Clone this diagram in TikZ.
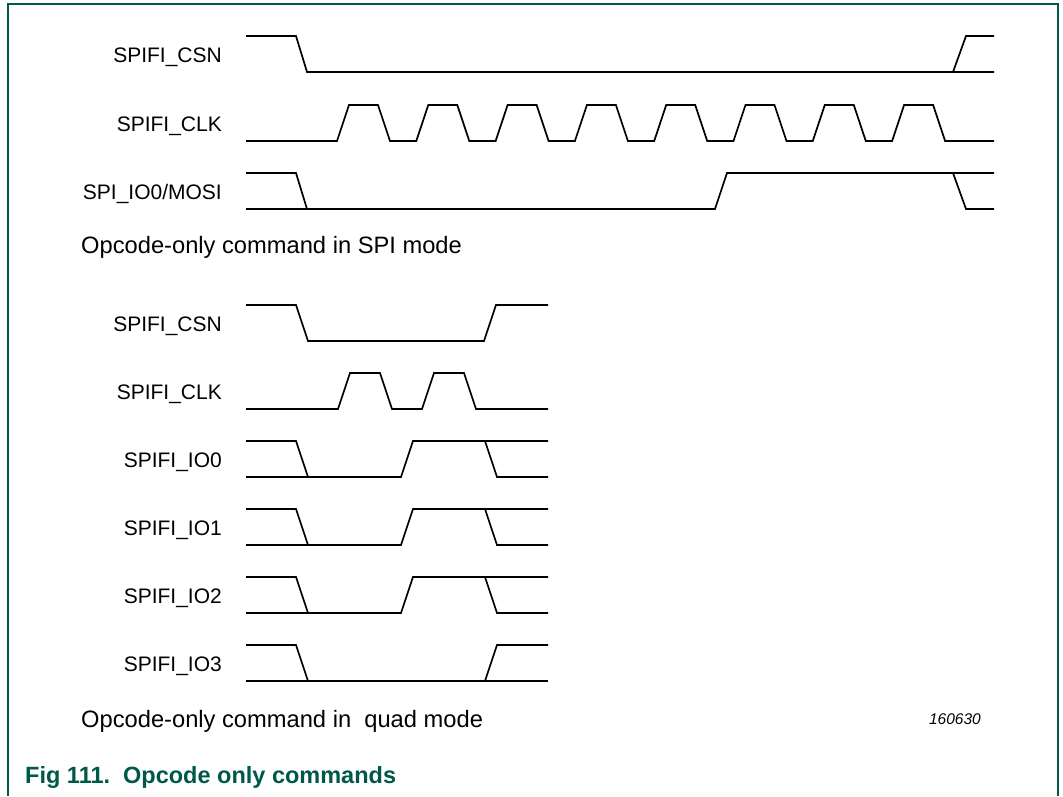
\documentclass[tikz,border=0pt]{standalone}
\usepackage{fontspec}
\setmainfont{Liberation Sans}
\definecolor{nxpgreen}{RGB}{0,88,72}
\begin{document}
\begin{tikzpicture}[x=1pt,y=-1pt,
  sig/.style={line width=1.7pt,line join=miter,black},
  frame/.style={line width=1.5pt,nxpgreen},
  lbl/.style={anchor=base east,inner sep=0pt,font=\fontsize{21}{25}\selectfont},
  captxt/.style={anchor=base west,inner sep=0pt,font=\fontsize{23.7}{28}\selectfont},
  figcap/.style={anchor=base west,inner sep=0pt,text=nxpgreen,font=\fontsize{23.5}{28}\selectfont\bfseries},
  codetxt/.style={anchor=base east,inner sep=0pt,font=\fontsize{15.5}{18}\selectfont\itshape}]
\useasboundingbox (0,0) rectangle (1063,796);
% frame
\draw[frame] (8,796) -- (8,4) -- (1058,4) -- (1058,796);

% ---------- top diagram: SPI mode ----------
\node[lbl] (l1) at (222,62) {SPIFI\_CSN};
\node[lbl] (l2) at (222,131) {SPIFI\_CLK};
\node[lbl] (l3) at (222,199) {SPI\_IO0/MOSI};
% CSN
\draw[sig] (246,36) -- (296,36) -- (307,72) -- (994,72);
\draw[sig] (953,72) -- (966,36) -- (994,36);
% CLK
\draw[sig] (246,141) foreach \k in {0,...,7} {
  -- ({337+\k*79.3},141) -- ({349+\k*79.3},105) -- ({378+\k*79.3},105) -- ({390+\k*79.3},141)
} -- (994,141);
% IO0/MOSI
\draw[sig] (246,173) -- (296,173) -- (307,209);
\draw[sig] (246,209) -- (715,209) -- (727,173) -- (994,173);
\draw[sig] (953,173) -- (966,209) -- (994,209);
\node[captxt] (c1) at (81,253) {Opcode-only command in SPI mode};

% ---------- bottom diagram: quad mode ----------
\node[lbl] (m1) at (222,331) {SPIFI\_CSN};
\node[lbl] (m2) at (222,399) {SPIFI\_CLK};
\node[lbl] (m3) at (222,467) {SPIFI\_IO0};
\node[lbl] (m4) at (222,535) {SPIFI\_IO1};
\node[lbl] (m5) at (222,603) {SPIFI\_IO2};
\node[lbl] (m6) at (222,671) {SPIFI\_IO3};
% CSN
\draw[sig] (246,305) -- (296,305) -- (308,341) -- (484,341) -- (496,305) -- (548,305);
% CLK
\draw[sig] (246,409) -- (338,409) -- (350,373) -- (380,373) -- (392,409) -- (422,409)
  -- (434,373) -- (464,373) -- (476,409) -- (548,409);
% IO0..IO2
\foreach \hi/\lo in {441/477,509/545,577/613} {
  \draw[sig] (246,\hi) -- (296,\hi) -- (308,\lo);
  \draw[sig] (246,\lo) -- (401,\lo) -- (413,\hi) -- (548,\hi);
  \draw[sig] (485,\hi) -- (497,\lo) -- (548,\lo);
}
% IO3
\draw[sig] (246,645) -- (296,645) -- (308,681);
\draw[sig] (246,681) -- (548,681);
\draw[sig] (485,681) -- (497,645) -- (548,645);
\node[captxt] (c2) at (81,727) {Opcode-only command in\ \ quad mode};
\node[codetxt] (id) at (981,724) {160630};
\node[figcap] (fig) at (25,783) {Fig 111.\ \ Opcode only commands};
\end{tikzpicture}
\end{document}
